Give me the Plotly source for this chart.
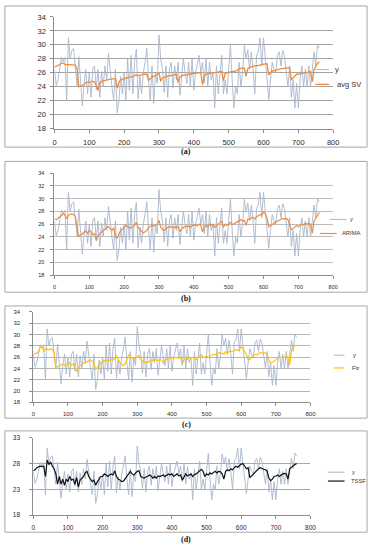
import plotly.graph_objects as go

# ---- data ----
t = list(range(0, 765, 5))

y_obs = [
    26.5, 24.2, 25.0, 27.0, 28.2, 27.6, 28.2, 22.0, 31.0, 28.0,
    29.2, 29.5, 26.5, 24.0, 28.3, 25.0, 21.3, 24.5, 26.5, 23.0,
    26.0, 22.5, 26.5, 27.0, 23.6, 26.5, 22.5, 26.2, 24.0, 27.0,
    25.0, 28.8, 26.0, 24.0, 22.0, 26.5, 20.3, 22.0, 25.5, 23.0,
    26.0, 22.0, 28.0, 23.5, 28.5, 23.0, 27.5, 29.4, 22.3, 25.5,
    23.0, 26.0, 27.5, 29.5, 25.0, 22.0, 27.0, 21.6, 26.0, 24.5,
    31.4, 28.0, 26.5, 23.2, 27.0, 22.5, 26.5, 27.5, 23.8, 27.0,
    25.0, 27.5, 22.8, 25.0, 28.0, 26.0, 24.5, 27.5, 24.0, 28.0,
    23.5, 26.0, 27.5, 28.5, 26.0, 27.5, 24.5, 28.0, 24.0, 27.5,
    25.0, 26.0, 21.0, 27.0, 23.0, 26.0, 28.5, 23.0, 25.0, 23.0,
    26.5, 30.0, 25.0, 21.0, 24.0, 23.0, 27.5, 24.0, 26.0, 29.9,
    28.0, 29.3, 26.5, 29.0, 26.5, 23.0, 28.5, 29.0, 31.0, 27.0,
    31.0, 28.0, 26.0, 22.2, 25.0, 27.5, 26.5, 26.0, 28.5, 29.0,
    27.0, 29.2, 28.5, 26.5, 24.0, 27.0, 22.5, 25.0, 21.0, 24.5,
    21.0, 25.0, 27.0, 24.0, 26.5, 24.0, 27.0, 24.0, 27.0, 29.0,
    27.0, 30.0, 29.5,
]

avg_sv = [
    26.8, 26.9, 27.0, 27.2, 27.4, 27.4, 27.2, 27.2, 27.2, 27.2,
    27.2, 27.2, 27.1, 26.5, 24.0, 24.1, 24.2, 24.3, 24.6, 24.6,
    24.7, 24.7, 24.8, 24.7, 24.2, 23.5, 24.6, 24.8, 24.9, 24.9,
    25.0, 25.0, 25.1, 25.1, 25.2, 25.2, 23.8, 24.6, 25.0, 25.1,
    25.2, 25.3, 25.3, 25.4, 25.4, 25.5, 25.7, 25.7, 25.6, 25.6,
    25.7, 25.8, 25.8, 25.8, 24.9, 25.2, 25.4, 25.5, 25.6, 25.8,
    26.0, 24.8, 25.3, 25.4, 25.5, 25.5, 25.6, 25.6, 25.7, 25.8,
    25.8, 24.6, 25.4, 25.6, 25.7, 25.7, 25.7, 25.8, 25.8, 25.9,
    25.9, 26.0, 26.0, 26.0, 26.0, 24.3, 25.6, 25.8, 25.9, 25.9,
    26.0, 26.0, 26.0, 26.1, 26.1, 26.2, 26.2, 24.9, 25.9, 26.0,
    26.1, 26.2, 26.2, 26.2, 26.3, 26.3, 26.6, 26.6, 26.7, 26.7,
    25.5, 26.6, 26.8, 26.9, 26.9, 27.0, 27.0, 27.0, 27.1, 27.2,
    27.2, 27.3, 27.3, 25.7, 26.0, 26.3, 26.3, 26.4, 26.5, 26.5,
    26.6, 26.6, 26.7, 26.7, 26.7, 26.7, 25.0, 25.3, 25.5, 25.8,
    25.8, 25.9, 26.0, 26.0, 26.0, 26.0, 26.1, 26.2, 24.7, 26.5,
    27.0, 27.3, 27.6,
]

arima = [
    26.8, 26.7, 26.9, 27.1, 27.4, 27.6, 27.5, 26.8, 27.4, 27.5,
    27.6, 27.5, 27.2, 25.5, 24.0, 24.3, 24.5, 24.7, 24.9, 24.6,
    25.0, 24.8, 24.3, 24.6, 23.4, 24.2, 24.5, 24.8, 25.0, 25.2,
    25.5, 25.6, 25.2, 25.0, 25.4, 24.0, 23.8, 24.5, 25.0, 25.2,
    25.5, 25.8, 25.6, 25.4, 25.4, 25.6, 25.8, 26.3, 25.5, 25.2,
    24.8, 24.6, 24.8, 25.0, 25.5, 25.6, 25.8, 25.7, 25.8, 26.0,
    26.6, 25.5, 25.2, 25.0, 25.3, 25.4, 25.6, 25.5, 25.6, 25.4,
    25.6, 25.5, 24.8, 25.2, 25.5, 25.6, 25.6, 25.7, 25.5, 25.8,
    25.8, 25.9, 25.7, 26.0, 25.8, 24.8, 25.5, 25.8, 25.6, 26.0,
    25.8, 26.0, 25.5, 25.8, 26.0, 26.2, 26.5, 25.5, 26.0, 25.8,
    26.0, 26.3, 26.0, 26.0, 26.2, 26.4, 26.5, 26.7, 26.5, 26.6,
    25.8, 26.8, 26.8, 27.0, 27.1, 26.8, 27.2, 27.3, 27.5, 27.4,
    27.9, 27.6, 27.0, 25.6, 25.8, 26.0, 26.2, 26.3, 26.5, 26.6,
    26.8, 26.9, 26.8, 26.9, 26.7, 25.8, 25.1, 25.3, 25.5, 25.8,
    25.6, 25.8, 26.0, 25.9, 26.1, 26.0, 26.1, 26.0, 24.6, 26.5,
    27.0, 27.4, 27.8,
]

ftr = [
    26.5, 26.6, 26.7, 27.0, 27.7, 28.0, 27.0, 27.5, 27.4, 27.3,
    27.5, 27.3, 26.8, 24.0, 24.3, 24.5, 24.6, 24.8, 24.5, 24.8,
    24.7, 25.0, 24.6, 24.8, 24.0, 23.4, 24.2, 24.5, 24.8, 25.0,
    25.0, 25.2, 25.4, 25.5, 25.2, 25.0, 23.8, 24.3, 24.6, 25.0,
    25.2, 25.4, 25.3, 25.5, 25.4, 25.6, 25.5, 25.8, 26.3, 25.5,
    25.0, 24.8, 24.5, 24.8, 25.5, 26.4, 26.2, 25.8, 25.5, 25.8,
    26.0, 26.3, 25.6, 25.3, 25.0, 25.2, 25.0, 25.3, 25.5, 25.4,
    25.6, 25.5, 25.4, 25.6, 25.5, 25.0, 25.5, 25.6, 25.8, 25.8,
    25.9, 25.8, 26.0, 25.9, 25.8, 26.0, 24.8, 25.5, 25.8, 25.6,
    26.0, 25.8, 26.0, 25.8, 25.5, 26.0, 26.2, 26.4, 26.0, 26.0,
    26.2, 26.0, 26.2, 26.3, 26.5, 26.4, 26.6, 26.7, 26.8, 26.6,
    26.5, 27.0, 26.6, 27.0, 27.1, 27.0, 27.2, 27.3, 27.2, 27.4,
    27.8, 27.5, 27.0, 26.5, 25.5, 25.6, 26.0, 26.3, 26.5, 26.4,
    26.6, 26.8, 26.7, 26.8, 26.7, 26.6, 25.5, 25.0, 25.1, 25.3,
    25.5, 25.8, 26.0, 25.9, 26.0, 26.0, 26.1, 26.0, 24.6, 27.2,
    27.8, 28.0, 28.2,
]

tssf = [
    26.6, 26.8, 27.2, 27.3, 27.5, 27.4, 27.5, 25.5, 28.7, 27.8,
    28.3, 27.5, 27.0, 26.0, 24.0, 25.5, 24.0, 25.0, 23.8, 25.0,
    24.5, 25.5, 24.8, 25.0, 24.0, 25.3, 23.5, 24.8, 25.2, 25.5,
    26.2, 26.5, 25.5, 25.0, 24.5, 24.8, 23.8, 24.5, 25.0, 25.5,
    25.5, 26.0, 25.8, 25.5, 25.8, 26.0, 25.8, 26.6, 25.5, 25.0,
    24.8, 24.5, 24.6, 25.0, 25.5, 26.0, 26.5, 26.0, 25.8, 26.2,
    26.5, 26.6, 25.5, 25.3, 25.2, 25.4, 25.5, 25.8, 25.6, 25.2,
    25.5, 25.2, 25.6, 25.5, 25.6, 25.8, 25.5, 25.8, 26.0, 25.8,
    26.0, 25.5, 25.8, 26.0, 25.6, 25.8, 24.8, 25.5, 26.0, 25.6,
    25.8, 26.0, 25.5, 25.9, 26.0, 26.3, 26.5, 26.9, 26.5, 25.5,
    26.0, 25.8, 26.2, 26.0, 26.3, 26.5, 26.2, 26.5, 26.4, 26.0,
    25.0, 26.5, 26.8, 26.6, 27.0, 26.8, 27.2, 27.5, 27.3, 27.6,
    27.9, 28.0, 27.6, 27.0, 27.2, 25.3, 25.6, 26.0, 26.4, 26.8,
    27.0, 27.2, 27.0, 26.9, 26.8, 26.5, 25.2, 24.7, 25.0, 25.5,
    25.6, 25.8, 25.5, 25.8, 26.0, 26.1, 26.0, 25.0, 27.0, 27.3,
    27.6, 27.8, 28.0,
]

x_ticks = [0, 100, 200, 300, 400, 500, 600, 700, 800]
y_ticks_abc = [18, 20, 22, 24, 26, 28, 30, 32, 34]
y_ticks_d = [18, 23, 28, 33]

forecasts = [
    ("avg SV", avg_sv, "#f08a3c", 1.3),
    ("ARIMA", arima, "#f08a3c", 1.2),
    ("Ftr", ftr, "#fcc20e", 1.2),
    ("TSSF", tssf, "#111111", 1.2),
]

W, H = 376, 550
Y_COLOR = "#a9b7cc"


def px(x):
    return x / W


def py(y):
    return 1 - y / H


panels = [
    dict(xd=(53.6, 338.4), yd=(13.1, 126.9), yt=y_ticks_abc, fs=7.5, gc="#a3a3a3", ys=3, xs=3),
    dict(xd=(53.6, 338.4), yd=(172.0, 275.6), yt=y_ticks_abc, fs=5.5, gc="#bdbdbd", ys=5, xs=3),
    dict(xd=(32.0, 315.2), yd=(313.0, 405.0), yt=y_ticks_abc, fs=6.0, gc="#b5b5b5", ys=8, xs=2),
    dict(xd=(32.0, 315.2), yd=(441.0, 519.7), yt=y_ticks_d, fs=6.5, gc="#a8a8a8", ys=8, xs=3),
]

fig = go.Figure()
layout = dict(
    width=W, height=H, margin=dict(l=0, r=0, t=0, b=0),
    paper_bgcolor="white", plot_bgcolor="white", showlegend=False,
    font=dict(family="Liberation Sans", color="#2a2a2a"),
)

for i, (name, vals, col, lw) in enumerate(forecasts):
    n = "" if i == 0 else str(i + 1)
    p = panels[i]
    fig.add_trace(go.Scatter(x=t, y=y_obs, mode="lines", name="y",
                             line=dict(color=Y_COLOR, width=0.9),
                             xaxis="x" + n, yaxis="y" + n))
    fig.add_trace(go.Scatter(x=t, y=vals, mode="lines", name=name,
                             line=dict(color=col, width=lw),
                             xaxis="x" + n, yaxis="y" + n))
    layout["xaxis" + n] = dict(
        domain=[px(p["xd"][0]), px(p["xd"][1])], range=[0, 800],
        tickvals=x_ticks, ticks="outside", ticklen=3, tickcolor="#8c8c8c",
        showline=True, linecolor="#8c8c8c", linewidth=1, showgrid=False,
        zeroline=False, anchor="y" + n, tickfont=dict(size=p["fs"]),
        ticklabelstandoff=p["xs"], fixedrange=True,
    )
    layout["yaxis" + n] = dict(
        domain=[py(p["yd"][1]), py(p["yd"][0])],
        range=[p["yt"][0], p["yt"][-1]], tickvals=p["yt"],
        ticks="outside", ticklen=3, tickcolor="#8c8c8c",
        showline=True, linecolor="#8c8c8c", linewidth=1,
        showgrid=True, gridcolor=p["gc"], gridwidth=1,
        zeroline=False, anchor="x" + n, tickfont=dict(size=p["fs"]),
        ticklabelstandoff=p["ys"], fixedrange=True,
    )

fig.update_layout(**layout)

# panel frames
frames = [(2, 145.5), (160, 293), (307, 421), (434, 537)]
for (top, bot) in frames:
    fig.add_shape(type="rect", xref="paper", yref="paper",
                  x0=px(3), x1=px(373), y0=py(bot), y1=py(top),
                  line=dict(color="#a6a6a6", width=1))

# captions
for lab, yy in [("(a)", 150), ("(b)", 299.5), ("(c)", 428), ("(d)", 544)]:
    fig.add_annotation(text="<b>%s</b>" % lab, xref="paper", yref="paper",
                       x=px(188), y=py(yy), showarrow=False,
                       font=dict(family="Liberation Serif", size=8, color="#111"),
                       xanchor="center", yanchor="middle")

# legends (line sample + text)
legends = [
    dict(rows=(66.7, 81.7), lx=[(320, 334), (320, 334)], tx=(338, 340), fs=7.5, idx=0),
    dict(rows=(219, 233.3), lx=[(335, 352), (325, 342)], tx=(354, 345), fs=5.8, idx=1),
    dict(rows=(357, 370), lx=[(339, 350), (339, 350)], tx=(357, 356), fs=6.0, idx=2),
    dict(rows=(476, 485), lx=[(333, 350), (333, 350)], tx=(356, 355), fs=5.8, idx=3),
]
for lg in legends:
    name, vals, col, lw = forecasts[lg["idx"]]
    items = [("y", Y_COLOR, 1.0), (name, col, lw)]
    for k, (txt, c, w) in enumerate(items):
        yy = lg["rows"][k]
        x0, x1 = lg["lx"][k]
        fig.add_shape(type="line", xref="paper", yref="paper",
                      x0=px(x0), x1=px(x1), y0=py(yy), y1=py(yy),
                      line=dict(color=c, width=w))
        fig.add_annotation(text=txt, xref="paper", yref="paper",
                           x=px(lg["tx"][k]), y=py(yy), showarrow=False,
                           xanchor="left", yanchor="middle",
                           font=dict(size=lg["fs"], color="#333"))

fig.write_html("out.html",
               config={"displayModeBar": False},
               post_script="document.body.style.margin='0';"
                           "document.body.style.overflow='hidden';")
